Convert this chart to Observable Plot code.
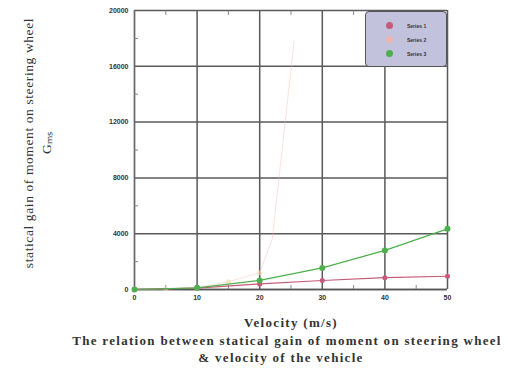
<!DOCTYPE html>
<html>
<head>
<meta charset="utf-8">
<script src="https://cdn.jsdelivr.net/npm/d3@7"></script>
<script src="https://cdn.jsdelivr.net/npm/@observablehq/plot@0.6"></script>
<style>
  body { margin: 0; background: #fff; }
  #wrap { position: relative; width: 508px; height: 385px; }
  #legend { position: absolute; left: 365px; top: 11px; width: 82px; height: 56px;
    background: #c2c2dc; border: 1.5px solid #555; border-radius: 4px; box-sizing: border-box;
    font: bold 5px "Liberation Sans", sans-serif; color: #333; }
  .row { position: absolute; left: 20px; display: flex; align-items: center; gap: 14px; }
  .sw { width: 7px; height: 7px; border-radius: 50%; }
  .spread1 { letter-spacing: 1.3px; }
  .spread2 { letter-spacing: 0.6px; }
</style>
</head>
<body>
<div id="wrap"></div>
<script>
const seriesNames = ["Series 1", "Series 2", "Series 3"];
const seriesColors = ["#c65a78", "#f0b4b0", "#4cb04c"];

const velocity1 = [0, 10, 20, 30, 40, 50];
const gain1 = [0, 100, 400, 640, 850, 950];

const velocity2 = [0, 5, 10, 15, 20, 22, 25.5];
const gain2 = [0, 40, 150, 550, 1200, 3600, 17800];

const velocity3 = [0, 10, 20, 30, 40, 50];
const gain3 = [0, 120, 650, 1550, 2800, 4350];

const xTicks = [0, 10, 20, 30, 40, 50];
const xMinor = [5, 15, 25, 35, 45];
const yTicks = [0, 4000, 8000, 12000, 16000, 20000];
const yMinor = [2000, 6000, 10000, 14000, 18000];

const yLabel1 = "statical gain of moment on steering wheel";
const yLabel2 = "Gₘₛ";
const xLabel = "Velocity (m/s)";
const caption1 = "The relation between statical gain of moment on steering wheel";
const caption2 = "& velocity of the vehicle";

const rows = (xs, ys, s) => xs.map((x, i) => ({x, y: ys[i], s}));
const d1 = rows(velocity1, gain1, seriesNames[0]);
const d2 = rows(velocity2, gain2, seriesNames[1]);
const d3 = rows(velocity3, gain3, seriesNames[2]);

const serif = "'Liberation Serif', 'Times New Roman', serif";
const noText = () => "";

const chart = Plot.plot({
  width: 508,
  height: 385,
  marginLeft: 134,
  marginRight: 61,
  marginTop: 10,
  marginBottom: 96,
  style: {background: "#fff", fontFamily: "'Liberation Sans', sans-serif"},
  x: {domain: [0, 50]},
  y: {domain: [0, 20000]},
  marks: [
    Plot.gridX(xTicks, {stroke: "#5a5a5a", strokeOpacity: 1, strokeWidth: 1.5}),
    Plot.gridY(yTicks, {stroke: "#5a5a5a", strokeOpacity: 1, strokeWidth: 1.5}),
    Plot.ruleX([0], {stroke: "#666", strokeWidth: 1.2}),
    Plot.ruleY([0], {stroke: "#555", strokeWidth: 1.6}),
    Plot.axisY(yMinor, {anchor: "left", tickSize: -4, tickFormat: noText, stroke: "#888", label: null}),
    Plot.axisX(xMinor, {anchor: "bottom", tickSize: -4, tickFormat: noText, stroke: "#888", label: null}),
    Plot.axisX(xMinor, {anchor: "top", tickSize: -4, tickFormat: noText, stroke: "#888", label: null}),
    Plot.axisX(xTicks, {anchor: "bottom", tickSize: 0, tickPadding: 6, fontSize: 7, fontWeight: "bold", fill: "#333", label: null}),
    Plot.axisY(yTicks, {anchor: "left", tickSize: 0, tickPadding: 6, fontSize: 7, fontWeight: "bold", fill: "#333", label: null, tickFormat: d => String(d)}),
    Plot.line(d2, {x: "x", y: "y", stroke: seriesColors[1], strokeWidth: 1, strokeOpacity: 0.4}),
    Plot.dot(d2.filter(d => d.y < 2000), {x: "x", y: "y", fill: "#f2d8a8", r: 2.5, fillOpacity: 0.6}),
    Plot.line(d1, {x: "x", y: "y", stroke: seriesColors[0], strokeWidth: 1.1}),
    Plot.dot(d1, {x: "x", y: "y", fill: seriesColors[0], r: 2.5}),
    Plot.line(d3, {x: "x", y: "y", stroke: seriesColors[2], strokeWidth: 1.2}),
    Plot.dot(d3, {x: "x", y: "y", fill: seriesColors[2], r: 3}),
    Plot.text([yLabel1], {frameAnchor: "left", textAnchor: "middle", dx: -106, dy: -7, rotate: -90, fontSize: 13.5, fontFamily: serif, fill: "#333", className: "spread2"}),
    Plot.text([yLabel2], {frameAnchor: "left", textAnchor: "middle", dx: -88, dy: -7, rotate: -90, fontSize: 13.5, fontFamily: serif, fill: "#333"}),
    Plot.text([xLabel], {frameAnchor: "bottom", dy: 37, fontSize: 13, fontWeight: "bold", fontFamily: serif, fill: "#333", className: "spread1"}),
    Plot.text([caption1], {frameAnchor: "bottom", dx: -4, dy: 55, fontSize: 13, fontWeight: "bold", fontFamily: serif, fill: "#333", className: "spread1"}),
    Plot.text([caption2], {frameAnchor: "bottom", dx: -10, dy: 72, fontSize: 13, fontWeight: "bold", fontFamily: serif, fill: "#333", className: "spread1"})
  ]
});

const wrap = document.getElementById("wrap");
wrap.appendChild(chart);

const legend = document.createElement("div");
legend.id = "legend";
seriesNames.forEach((name, i) => {
  const row = document.createElement("div");
  row.className = "row";
  row.style.top = (10 + i * 14) + "px";
  const sw = document.createElement("span");
  sw.className = "sw";
  sw.style.background = seriesColors[i];
  const lab = document.createElement("span");
  lab.textContent = name;
  row.appendChild(sw);
  row.appendChild(lab);
  legend.appendChild(row);
});
wrap.appendChild(legend);
</script>
</body>
</html>
